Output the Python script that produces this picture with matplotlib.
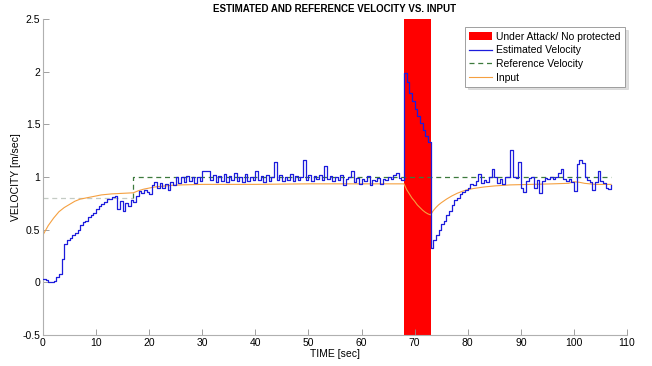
import numpy as np
import matplotlib
matplotlib.use("Agg")
import matplotlib.pyplot as plt
from matplotlib.ticker import FuncFormatter

plt.rcParams['font.family'] = ['Liberation Sans', 'DejaVu Sans']

# attack window [sec]
attack_span = [68.0, 73.0]

# estimated velocity, sampled every 0.5 sec from 0 to 107 sec
est_t = np.arange(0, 107.5, 0.5)
est_v = [
    0.03, 0.02, 0.00, 0.00, 0.01, 0.05, 0.08, 0.22, 0.36, 0.40,
    0.42, 0.45, 0.47, 0.50, 0.54, 0.57, 0.58, 0.62, 0.64, 0.66,
    0.70, 0.72, 0.74, 0.76, 0.79, 0.79, 0.81, 0.82, 0.70, 0.77,
    0.68, 0.75, 0.72, 0.78, 0.76, 0.82, 0.87, 0.85, 0.88, 0.86,
    0.84, 0.92, 0.95, 0.90, 0.94, 0.90, 0.93, 0.88, 0.95, 0.92,
    1.00, 0.94, 1.00, 0.95, 1.01, 0.96, 1.00, 0.94, 1.00, 0.96,
    1.06, 1.06, 1.06, 0.97, 1.02, 0.95, 1.01, 0.96, 1.03, 0.95,
    1.01, 0.97, 1.04, 0.96, 1.00, 0.95, 1.03, 0.96, 1.00, 0.97,
    1.06, 0.97, 1.01, 0.95, 1.02, 0.96, 1.00, 1.14, 0.97, 1.02,
    0.96, 1.00, 0.97, 1.03, 0.96, 1.01, 0.97, 1.00, 1.16, 0.97,
    1.02, 0.96, 1.01, 0.98, 1.02, 0.97, 1.10, 0.98, 1.01, 0.96,
    1.00, 0.97, 1.02, 0.92, 0.98, 1.00, 1.06, 0.95, 0.99, 0.93,
    0.98, 0.96, 1.01, 0.92, 0.97, 0.96, 0.99, 0.93, 0.98, 0.97,
    1.00, 0.98, 1.02, 1.04, 0.99, 0.97, 1.99, 1.90, 1.80, 1.72,
    1.65, 1.58, 1.51, 1.45, 1.39, 1.33, 0.33, 0.40, 0.45, 0.50,
    0.55, 0.58, 0.64, 0.68, 0.73, 0.78, 0.80, 0.84, 0.86, 0.88,
    0.90, 0.93, 0.92, 0.96, 1.03, 0.94, 0.97, 0.95, 1.00, 1.08,
    1.00, 0.94, 0.98, 0.93, 1.00, 1.00, 1.26, 1.00, 0.99, 1.14,
    0.90, 0.86, 0.96, 0.99, 1.00, 0.90, 0.97, 0.85, 0.96, 0.99,
    0.98, 1.00, 0.98, 1.00, 1.04, 1.08, 0.98, 0.96, 0.98, 0.95,
    0.87, 1.12, 1.16, 1.13, 1.00, 0.97, 0.95, 0.88, 0.95, 1.06,
    0.96, 0.94, 0.90, 0.89, 0.92,
]

# reference velocity (step)
ref_t = [0, 17, 17, 107]
ref_v = [0.8, 0.8, 1.0, 1.0]

# input
input_t = [0, 1, 2, 3, 4, 5, 6, 7, 8, 9, 10, 11, 12, 13, 15, 17, 18, 19, 20,
           21, 22, 23, 24, 26, 30, 40, 50, 60, 68, 68.5, 69, 69.5, 70, 70.5,
           71, 71.5, 72, 72.5, 73, 73.5, 74, 74.5, 75, 76, 77, 78, 79, 80,
           81, 83, 85, 88, 92, 96, 99, 100, 101, 102, 104, 107]
input_v = [0.45, 0.54, 0.61, 0.67, 0.71, 0.74, 0.77, 0.79, 0.80, 0.81, 0.82,
           0.83, 0.835, 0.84, 0.845, 0.85, 0.87, 0.885, 0.895, 0.905, 0.91,
           0.915, 0.92, 0.925, 0.93, 0.93, 0.935, 0.935, 0.935, 0.88, 0.84,
           0.80, 0.77, 0.735, 0.71, 0.685, 0.665, 0.65, 0.64, 0.68, 0.71,
           0.735, 0.755, 0.79, 0.82, 0.845, 0.865, 0.88, 0.89, 0.905, 0.915,
           0.925, 0.93, 0.935, 0.94, 0.955, 0.95, 0.94, 0.93, 0.93]

fig = plt.figure(figsize=(6.52, 3.66), dpi=100)
ax = fig.add_axes([43 / 652, 31 / 366, 584 / 652, 316 / 366])

ax.axvspan(attack_span[0], attack_span[1], color='#ff0000', lw=0,
           label='Under Attack/ No protected', zorder=1)
ax.plot(est_t, est_v, color='#1c1cdc', lw=0.9, drawstyle='steps-post',
        label='Estimated Velocity', zorder=3)
ax.plot(ref_t[:2], ref_v[:2], color='#c4cbc4', lw=0.9, ls=(0, (4, 3)), zorder=2)
ax.plot(ref_t[1:], ref_v[1:], color='#3d7a3d', lw=0.9, ls=(0, (4, 3)),
        label='Reference Velocity', zorder=2)
ax.plot(input_t, input_v, color='#f5a040', lw=0.8, label='Input', zorder=2.5)

ax.set_xlim(0, 110)
ax.set_ylim(-0.5, 2.5)
ax.set_xticks(np.arange(0, 111, 10))
ax.set_yticks(np.arange(-0.5, 2.51, 0.5))
ax.yaxis.set_major_formatter(FuncFormatter(lambda v, p: '%g' % v))

for s in ['top', 'right']:
    ax.spines[s].set_visible(False)
for s in ['left', 'bottom']:
    ax.spines[s].set_color('#b0b0b0')
    ax.spines[s].set_linewidth(0.8)
ax.tick_params(direction='in', length=4, width=0.6, color='#909090',
               labelsize=7.5, pad=2)

ax.set_xlabel('TIME [sec]', fontsize=7.5, labelpad=1)
ax.set_ylabel('VELOCITY [m/sec]', fontsize=7.5)
ax.yaxis.set_label_coords(-0.038, 0.5)
ax.set_title('ESTIMATED AND REFERENCE VELOCITY VS. INPUT', fontsize=7,
             fontweight='bold', pad=5)

leg = ax.legend(loc='upper right', bbox_to_anchor=(1.0, 0.98), fontsize=7.5,
                frameon=True, fancybox=False,
                shadow={'color': '#c8c8c8', 'alpha': 0.6, 'ox': 2, 'oy': -2},
                handlelength=2.2, labelspacing=0.35, borderpad=0.4,
                handletextpad=0.4, borderaxespad=0.2)
leg.get_frame().set_edgecolor('#909090')
leg.get_frame().set_linewidth(0.6)

fig.savefig('out.png', dpi=100)
